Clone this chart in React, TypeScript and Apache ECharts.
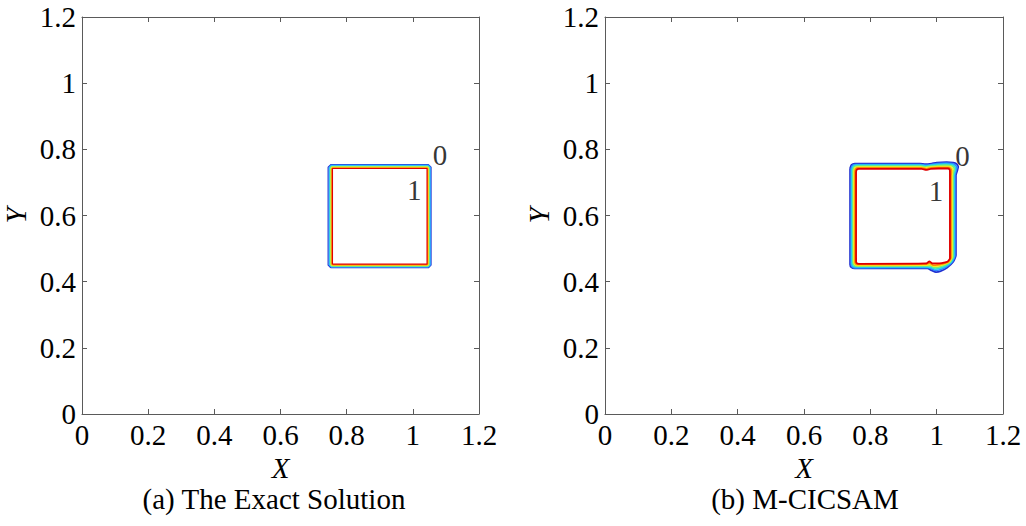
import React, { useEffect, useRef } from "react";
import * as echarts from "echarts";

const FONT = '"Liberation Serif", "Times New Roman", serif';

// contour level colours (jet), outer level (0) first, inner level (1) last
const levelColors = ["#1f2fd0", "#2f86ff", "#22d4f0", "#74f074", "#f2ee22", "#ff8a00", "#e00000"];

// exact solution contour bounds: [xmin, xmax, ymin, ymax, cornerCut]
const exactBlue = [0.744, 1.055, 0.442, 0.754, 0.008];
const exactLightBlue = [0.747, 1.053, 0.444, 0.752, 0.006];
const exactCyan = [0.749, 1.051, 0.446, 0.75, 0.005];
const exactGreen = [0.751, 1.049, 0.447, 0.748, 0.004];
const exactYellow = [0.753, 1.047, 0.449, 0.746, 0.003];
const exactOrange = [0.755, 1.045, 0.451, 0.744, 0.002];
const exactRed = [0.757, 1.043, 0.453, 0.742, 0.0];

// M-CICSAM contour lines
const mcBlue = [[0.739,0.743],[0.743,0.753],[0.753,0.757],[0.950,0.757],[0.966,0.755],[0.985,0.757],[1.000,0.760],[1.030,0.761],[1.050,0.760],[1.060,0.756],[1.065,0.747],[1.062,0.735],[1.058,0.722],[1.058,0.480],[1.050,0.460],[1.032,0.443],[1.012,0.432],[0.998,0.429],[0.985,0.434],[0.972,0.440],[0.753,0.440],[0.743,0.443],[0.739,0.452],[0.739,0.743]];
const mcLightBlue = [[0.742,0.741],[0.746,0.751],[0.755,0.754],[0.951,0.754],[0.966,0.752],[0.985,0.754],[1.001,0.757],[1.029,0.758],[1.047,0.757],[1.056,0.753],[1.061,0.745],[1.058,0.734],[1.055,0.722],[1.055,0.478],[1.047,0.460],[1.029,0.445],[1.010,0.436],[0.996,0.434],[0.984,0.439],[0.971,0.443],[0.755,0.442],[0.746,0.445],[0.742,0.454],[0.742,0.741]];
const mcCyan = [[0.745,0.740],[0.748,0.748],[0.757,0.752],[0.952,0.752],[0.967,0.749],[0.984,0.752],[1.002,0.754],[1.028,0.755],[1.045,0.754],[1.053,0.750],[1.057,0.743],[1.055,0.733],[1.052,0.721],[1.052,0.477],[1.044,0.460],[1.026,0.447],[1.008,0.440],[0.995,0.438],[0.983,0.443],[0.971,0.445],[0.757,0.445],[0.748,0.447],[0.745,0.455],[0.745,0.740]];
const mcGreen = [[0.748,0.738],[0.751,0.746],[0.759,0.749],[0.953,0.749],[0.967,0.747],[0.984,0.749],[1.003,0.751],[1.028,0.752],[1.042,0.751],[1.049,0.748],[1.053,0.741],[1.051,0.732],[1.049,0.721],[1.049,0.475],[1.041,0.460],[1.024,0.450],[1.006,0.444],[0.993,0.442],[0.982,0.448],[0.970,0.448],[0.759,0.447],[0.751,0.450],[0.748,0.457],[0.748,0.738]];
const mcYellow = [[0.751,0.736],[0.754,0.744],[0.761,0.746],[0.953,0.746],[0.967,0.744],[0.983,0.746],[1.003,0.748],[1.027,0.748],[1.039,0.748],[1.045,0.745],[1.048,0.739],[1.047,0.730],[1.046,0.721],[1.046,0.473],[1.038,0.460],[1.021,0.452],[1.004,0.448],[0.991,0.447],[0.980,0.452],[0.969,0.450],[0.761,0.449],[0.754,0.452],[0.751,0.459],[0.751,0.736]];
const mcOrange = [[0.754,0.735],[0.756,0.741],[0.763,0.744],[0.954,0.744],[0.968,0.741],[0.983,0.744],[1.004,0.745],[1.026,0.745],[1.037,0.745],[1.042,0.742],[1.044,0.737],[1.044,0.729],[1.043,0.720],[1.043,0.472],[1.035,0.460],[1.018,0.454],[1.002,0.451],[0.990,0.450],[0.979,0.457],[0.969,0.453],[0.763,0.452],[0.756,0.454],[0.754,0.460],[0.754,0.735]];
const mcRed = [[0.757,0.733],[0.759,0.739],[0.765,0.741],[0.955,0.741],[0.968,0.738],[0.982,0.741],[1.005,0.742],[1.025,0.742],[1.034,0.742],[1.038,0.740],[1.040,0.735],[1.040,0.728],[1.040,0.720],[1.040,0.470],[1.032,0.460],[1.015,0.456],[1.000,0.455],[0.988,0.455],[0.978,0.461],[0.968,0.455],[0.765,0.454],[0.759,0.456],[0.757,0.462],[0.757,0.733]];

// contour level labels: [x, y, text]
const exactLabels: [number, number, string][] = [[1.082, 0.783, "0"], [1.004, 0.677, "1"]];
const mcLabels: [number, number, string][] = [[1.078, 0.78, "0"], [0.998, 0.674, "1"]];

const panelTitles = ["(a) The Exact Solution", "(b) M-CICSAM"];

function boxPolygon(b: number[]) {
  const [x0, x1, y0, y1, c] = b;
  return [
    [x0 + c, y0], [x1 - c, y0], [x1, y0 + c], [x1, y1 - c],
    [x1 - c, y1], [x0 + c, y1], [x0, y1 - c], [x0, y0 + c], [x0 + c, y0],
  ];
}

export default function App() {
  const ref = useRef<HTMLDivElement>(null);
  useEffect(() => {
    if (!ref.current) return;
    const chart = echarts.init(ref.current, null, { renderer: "svg" });
    const FS = 29;
    const mkLine = () => ({ show: true, onZero: false, lineStyle: { color: "#5a5a5a", width: 1 } });
    const mkTick = () => ({ show: true, inside: true, length: 5, lineStyle: { color: "#5a5a5a" } });
    const label = { fontFamily: FONT, fontSize: FS, color: "#000" };

    const grids = [
      { left: 82, top: 17, width: 397, height: 397 },
      { left: 605, top: 17, width: 398, height: 397 },
    ];
    const xAxis: any[] = [];
    const yAxis: any[] = [];
    const base = () => ({ type: "value", min: 0, max: 1.2, interval: 0.2, splitLine: { show: false } });
    grids.forEach((_, gi) => {
      xAxis.push({
        ...base(), gridIndex: gi, position: "bottom", axisLine: mkLine(), axisTick: mkTick(),
        axisLabel: { ...label, margin: 6 },
        name: "X", nameLocation: "middle", nameGap: 32,
        nameTextStyle: { ...label, fontStyle: "italic", lineHeight: 26 },
      });
      xAxis.push({
        ...base(), gridIndex: gi, position: "top", axisLine: mkLine(), axisTick: mkTick(),
        axisLabel: { show: false },
      });
      yAxis.push({
        ...base(), gridIndex: gi, position: "left", axisLine: mkLine(), axisTick: mkTick(),
        axisLabel: { ...label, margin: 6 },
        name: "Y", nameLocation: "middle", nameGap: 52, nameRotate: 90,
        nameTextStyle: { ...label, fontStyle: "italic" },
      });
      yAxis.push({
        ...base(), gridIndex: gi, position: "right", axisLine: mkLine(), axisTick: mkTick(),
        axisLabel: { show: false },
      });
    });

    const exactLevels = [exactBlue, exactLightBlue, exactCyan, exactGreen, exactYellow, exactOrange, exactRed];
    const mcLevels = [mcBlue, mcLightBlue, mcCyan, mcGreen, mcYellow, mcOrange, mcRed];

    const series: any[] = [];
    exactLevels.forEach((b, i) => {
      series.push({
        type: "line", xAxisIndex: 0, yAxisIndex: 0, data: boxPolygon(b),
        showSymbol: false, symbol: "none", silent: true,
        lineStyle: { color: levelColors[i], width: 1.2 },
      });
    });
    mcLevels.forEach((d, i) => {
      series.push({
        type: "line", xAxisIndex: 2, yAxisIndex: 2, data: d,
        showSymbol: false, symbol: "none", silent: true, smooth: 0.15,
        lineStyle: { color: levelColors[i], width: 1.8 },
      });
    });
    [exactLabels, mcLabels].forEach((labs, gi) => {
      series.push({
        type: "scatter", xAxisIndex: gi * 2, yAxisIndex: gi * 2, symbolSize: 0, silent: true,
        data: labs.map((l) => ({ value: [l[0], l[1]], name: l[2] })),
        label: { show: true, position: "inside", formatter: "{b}", ...label },
      });
    });

    chart.setOption({
      animation: false,
      backgroundColor: "#fff",
      grid: grids,
      xAxis,
      yAxis,
      series,
      graphic: [
        { type: "text", x: 274, y: 499, style: { text: panelTitles[0], font: `${FS}px ${FONT}`, fill: "#000", textAlign: "center", textVerticalAlign: "middle" } },
        { type: "text", x: 805, y: 499, style: { text: panelTitles[1], font: `${FS}px ${FONT}`, fill: "#000", textAlign: "center", textVerticalAlign: "middle" } },
      ],
    });
    return () => chart.dispose();
  }, []);
  return <div ref={ref} style={{ position: "absolute", left: 0, top: 0, width: 1026, height: 526 }} />;
}
